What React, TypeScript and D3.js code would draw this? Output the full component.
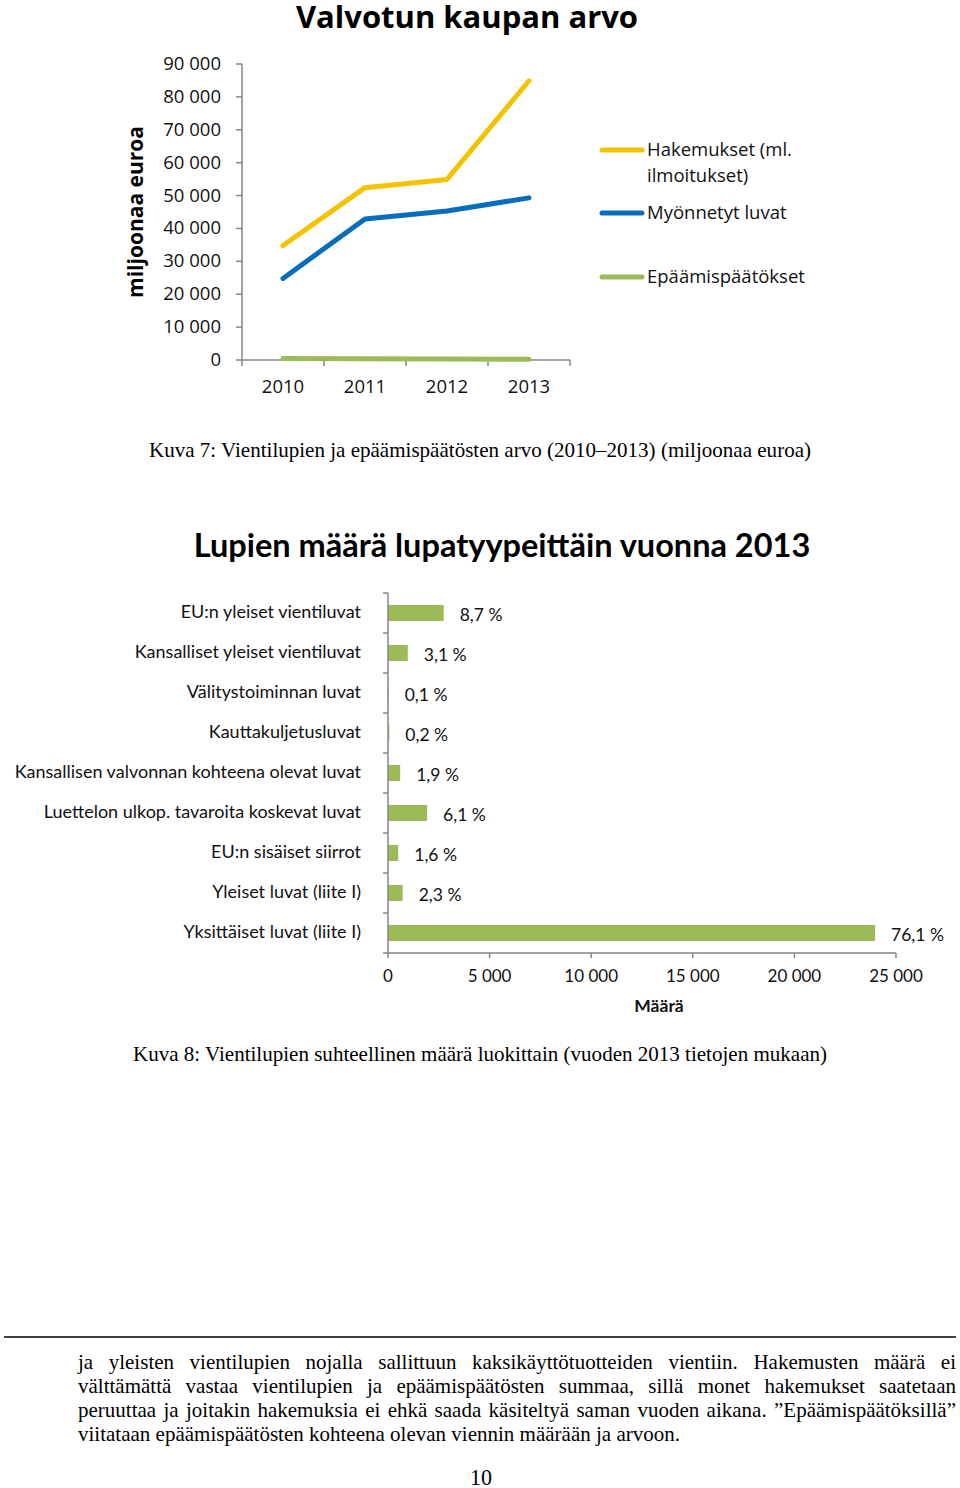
import React from 'react';
import * as d3 from 'd3';

// ---------- Data: chart 1 (Valvotun kaupan arvo) ----------
const years = ['2010', '2011', '2012', '2013'];
const hakemukset = [34800, 52400, 54900, 84900];
const myonnetyt = [24800, 42900, 45300, 49300];
const epaamiset = [450, 400, 300, 200];
const valueTicks = [0, 10000, 20000, 30000, 40000, 50000, 60000, 70000, 80000, 90000];
const seriesNames = ['Hakemukset (ml. ilmoitukset)', 'Myönnetyt luvat', 'Epäämispäätökset'];

// ---------- Data: chart 2 (Lupien määrä lupatyypeittäin vuonna 2013) ----------
const licenceTypes = [
  'EU:n yleiset vientiluvat',
  'Kansalliset yleiset vientiluvat',
  'Välitystoiminnan luvat',
  'Kauttakuljetusluvat',
  'Kansallisen valvonnan kohteena olevat luvat',
  'Luettelon ulkop. tavaroita koskevat luvat',
  'EU:n sisäiset siirrot',
  'Yleiset luvat (liite I)',
  'Yksittäiset luvat (liite I)',
];
const licenceCounts = [2740, 976, 32, 63, 599, 1922, 504, 725, 23970];
const licenceShares = ['8,7 %', '3,1 %', '0,1 %', '0,2 %', '1,9 %', '6,1 %', '1,6 %', '2,3 %', '76,1 %'];
const countTicks = [0, 5000, 10000, 15000, 20000, 25000];

// ---------- Texts ----------
const caption7 = 'Kuva 7: Vientilupien ja epäämispäätösten arvo (2010–2013) (miljoonaa euroa)';
const caption8 = 'Kuva 8: Vientilupien suhteellinen määrä luokittain (vuoden 2013 tietojen mukaan)';
const paragraphLines = [
  'ja yleisten vientilupien nojalla sallittuun kaksikäyttötuotteiden vientiin. Hakemusten määrä ei',
  'välttämättä vastaa vientilupien ja epäämispäätösten summaa, sillä monet hakemukset saatetaan',
  'peruuttaa ja joitakin hakemuksia ei ehkä saada käsiteltyä saman vuoden aikana. ”Epäämispäätöksillä”',
  'viitataan epäämispäätösten kohteena olevan viennin määrään ja arvoon.',
];
const pageNumber = '10';

const fmt = d3.formatLocale({ decimal: ',', thousands: ' ', grouping: [3], currency: ['', ''] }).format(',');

const YELLOW = '#F5C200';
const BLUE = '#0A6DBA';
const GREEN = '#9BBB59';
const AXIS = '#868686';
const SEGOE = "'Open Sans', 'DejaVu Sans', sans-serif";
const CALIBRI = "Lato, 'Open Sans', sans-serif";
const TIMES = "'Liberation Serif', 'DejaVu Serif', serif";

let _ctx: CanvasRenderingContext2D | null = null;
function measure(text: string, font: string): number {
  if (!_ctx) _ctx = document.createElement('canvas').getContext('2d');
  if (!_ctx) return text.length * 8;
  _ctx.font = font;
  return _ctx.measureText(text).width;
}

function LineChart() {
  const x = d3.scaleBand<string>().domain(years).range([242, 570]);
  const y = d3.scaleLinear().domain([0, 90000]).range([360, 64]);
  const cx = (d: string) => (x(d) as number) + x.bandwidth() / 2;
  const line = d3
    .line<number>()
    .x((_, i) => cx(years[i]))
    .y((v) => y(v));
  const series = [
    { name: seriesNames[0], values: hakemukset, color: YELLOW },
    { name: seriesNames[1], values: myonnetyt, color: BLUE },
    { name: seriesNames[2], values: epaamiset, color: GREEN },
  ];
  const [x0, x1] = x.range();
  const boundaries = years.map((d) => x(d) as number).concat([x1]);
  return (
    <g>
      <text x={467} y={28} textAnchor="middle" fontFamily={SEGOE} fontWeight={700} fontSize={31} fill="#000">
        Valvotun kaupan arvo
      </text>
      <text
        transform={`translate(143,212) rotate(-90)`}
        textAnchor="middle"
        fontFamily={SEGOE}
        fontWeight={700}
        fontSize={21}
        fill="#000"
      >
        miljoonaa euroa
      </text>
      {/* y axis */}
      <line x1={x0} x2={x0} y1={y(90000)} y2={y(0)} stroke={AXIS} strokeWidth={1.5} />
      {valueTicks.map((t) => (
        <g key={t}>
          <line x1={x0 - 6} x2={x0} y1={y(t)} y2={y(t)} stroke={AXIS} strokeWidth={1.5} />
          <text x={221} y={y(t) + 6} textAnchor="end" fontFamily={SEGOE} fontSize={18.5} fill="#111">
            {fmt(t)}
          </text>
        </g>
      ))}
      {/* x axis */}
      <line x1={x0} x2={x1} y1={y(0)} y2={y(0)} stroke={AXIS} strokeWidth={1.5} />
      {boundaries.map((b, i) => (
        <line key={i} x1={b} x2={b} y1={y(0)} y2={y(0) + 6} stroke={AXIS} strokeWidth={1.5} />
      ))}
      {years.map((d) => (
        <text key={d} x={cx(d)} y={393} textAnchor="middle" fontFamily={SEGOE} fontSize={18.5} fill="#111">
          {d}
        </text>
      ))}
      {/* series */}
      {series.map((s) => (
        <path key={s.name} d={line(s.values) || ''} fill="none" stroke={s.color} strokeWidth={5} strokeLinecap="round" strokeLinejoin="round" />
      ))}
      {/* legend */}
      {[
        { color: YELLOW, y: 150, lines: ['Hakemukset (ml.', 'ilmoitukset)'] },
        { color: BLUE, y: 213, lines: ['Myönnetyt luvat'] },
        { color: GREEN, y: 277, lines: ['Epäämispäätökset'] },
      ].map((l, i) => (
        <g key={i}>
          <line x1={602} x2={642} y1={l.y} y2={l.y} stroke={l.color} strokeWidth={5} strokeLinecap="round" />
          {l.lines.map((t, j) => (
            <text key={j} x={647} y={l.y + 6 + j * 26} fontFamily={SEGOE} fontSize={18.5} fill="#111">
              {t}
            </text>
          ))}
        </g>
      ))}
    </g>
  );
}

function BarChart() {
  const x = d3.scaleLinear().domain([0, 25000]).range([388, 896]);
  const y = d3.scaleBand<string>().domain(licenceTypes).range([593, 953]).paddingInner(0.6).paddingOuter(0.3);
  const step = y.step();
  const [y0, y1] = y.range();
  return (
    <g>
      <text x={502} y={557} textAnchor="middle" fontFamily={CALIBRI} fontWeight={700} fontSize={32.5} fill="#000">
        Lupien määrä lupatyypeittäin vuonna 2013
      </text>
      {licenceTypes.map((c, i) => {
        const by = y(c) as number;
        return (
          <g key={c}>
            <rect x={x(0)} y={by} width={x(licenceCounts[i]) - x(0)} height={y.bandwidth()} fill={GREEN} />
            <text x={361} y={by + y.bandwidth() / 2 + 5} textAnchor="end" fontFamily={CALIBRI} fontSize={18} fill="#111">
              {c}
            </text>
            <text
              x={x(licenceCounts[i]) + 16}
              y={by + y.bandwidth() / 2 + 8}
              fontFamily={CALIBRI}
              fontSize={17.5}
              fill="#111"
            >
              {licenceShares[i]}
            </text>
          </g>
        );
      })}
      {/* y axis */}
      <line x1={x(0)} x2={x(0)} y1={y0} y2={y1} stroke={AXIS} strokeWidth={1.5} />
      {d3.range(licenceTypes.length + 1).map((i) => (
        <line key={i} x1={x(0) - 5} x2={x(0)} y1={y0 + i * step} y2={y0 + i * step} stroke={AXIS} strokeWidth={1.5} />
      ))}
      {/* x axis */}
      <line x1={x(0)} x2={x(25000)} y1={y1} y2={y1} stroke={AXIS} strokeWidth={1.5} />
      {countTicks.map((t) => (
        <g key={t}>
          <line x1={x(t)} x2={x(t)} y1={y1} y2={y1 + 5} stroke={AXIS} strokeWidth={1.5} />
          <text x={x(t)} y={982} textAnchor="middle" fontFamily={CALIBRI} fontSize={17} fill="#111">
            {fmt(t)}
          </text>
        </g>
      ))}
      <text x={659} y={1012} textAnchor="middle" fontFamily={CALIBRI} fontWeight={700} fontSize={17.5} fill="#111">
        Määrä
      </text>
    </g>
  );
}

function Paragraph() {
  const fontSize = 21;
  const font = `${fontSize}px 'Liberation Serif'`;
  const left = 78;
  const right = 956;
  const lastNatural = measure(paragraphLines[paragraphLines.length - 1], font);
  const s = 602 / lastNatural; // horizontal compression of the scanned page
  const W = (right - left) / s;
  const spaceW = measure(' ', font);
  return (
    <g transform={`translate(${left},0) scale(${s},1)`} fontFamily={TIMES} fontSize={fontSize} fill="#000">
      {paragraphLines.map((ln, li) => {
        const words = ln.split(' ');
        const widths = words.map((w) => measure(w, font));
        const total = d3.sum(widths);
        const justify = li < paragraphLines.length - 1;
        const gap = justify ? (W - total) / (words.length - 1) : spaceW;
        let cur = 0;
        const baseline = 1369 + li * 24;
        return (
          <g key={li}>
            {words.map((w, wi) => {
              const px = cur;
              cur += widths[wi] + gap;
              return (
                <text key={wi} x={px} y={baseline}>
                  {w}
                </text>
              );
            })}
          </g>
        );
      })}
    </g>
  );
}

export default function App() {
  return (
    <svg
      width={960}
      height={1488}
      viewBox="0 0 960 1488"
      style={{ position: 'absolute', left: 0, top: 0, background: '#fff' }}
    >
      <rect x={0} y={0} width={960} height={1488} fill="#fff" />
      <LineChart />
      <text x={480} y={457} textAnchor="middle" fontFamily={TIMES} fontSize={21} textLength={662} lengthAdjust="spacingAndGlyphs" fill="#000">
        {caption7}
      </text>
      <BarChart />
      <text x={480} y={1061} textAnchor="middle" fontFamily={TIMES} fontSize={21} textLength={694} lengthAdjust="spacingAndGlyphs" fill="#000">
        {caption8}
      </text>
      <line x1={4} x2={956} y1={1337} y2={1337} stroke="#000" strokeWidth={1.5} />
      <Paragraph />
      <text x={481} y={1485} textAnchor="middle" fontFamily={TIMES} fontSize={24} textLength={22} lengthAdjust="spacingAndGlyphs" fill="#000">
        {pageNumber}
      </text>
    </svg>
  );
}
